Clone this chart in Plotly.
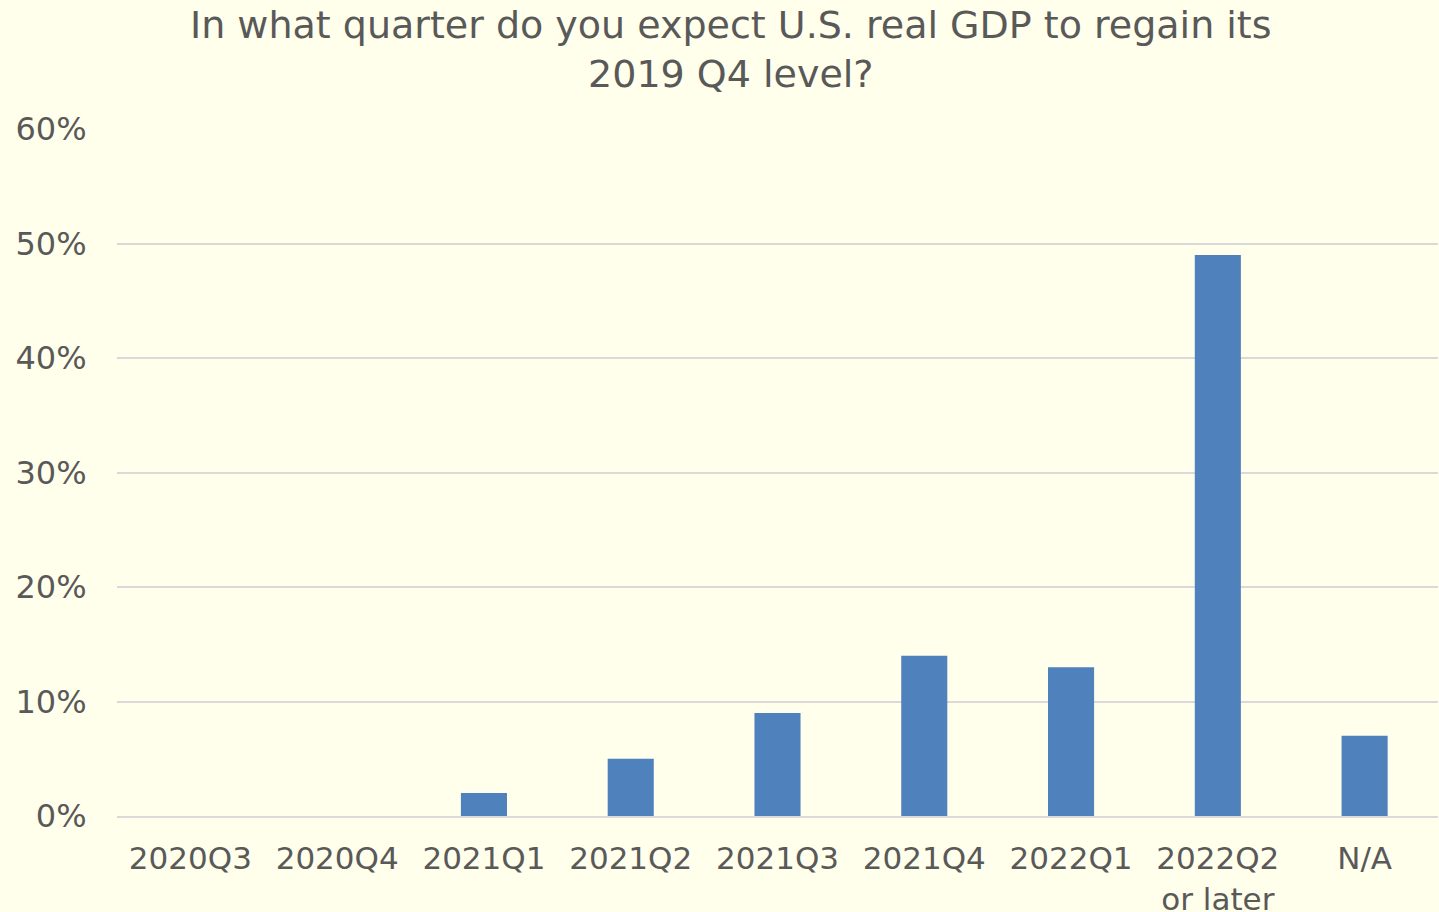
import plotly.graph_objects as go

categories = ["2020Q3", "2020Q4", "2021Q1", "2021Q2", "2021Q3", "2021Q4", "2022Q1", "2022Q2<br>or later", "N/A"]
values = [0.0, 0.0, 0.02, 0.05, 0.09, 0.14, 0.13, 0.49, 0.07]
y_ticks = [0, 0.1, 0.2, 0.3, 0.4, 0.5, 0.6]
y_labels = ["0%", "10%", "20%", "30%", "40%", "50%", "60%"]
title_text = "In what quarter do you expect U.S. real GDP to regain its<br>2019 Q4 level?"

TXT = "#595959"
FONT = "Verdana, DejaVu Sans, sans-serif"
BG = "#FFFFEB"

fig = go.Figure(go.Bar(x=categories, y=values, marker=dict(color="#4F81BD", line=dict(width=0)), width=0.314))

fig.update_layout(
    width=1439, height=912,
    paper_bgcolor=BG, plot_bgcolor=BG,
    margin=dict(l=117, r=1, t=129, b=96),
    font=dict(family=FONT, size=31, color=TXT),
    showlegend=False,
    annotations=[dict(text=title_text, xref="paper", yref="paper", x=0.465, y=1.1157,
                      xanchor="center", yanchor="middle", showarrow=False,
                      font=dict(family=FONT, size=38, color=TXT))],
)
fig.update_xaxes(showgrid=False, showline=True, linecolor="#D9D9D9", linewidth=2,
                 ticks="outside", ticklen=14, tickcolor="rgba(0,0,0,0)", automargin=False,
                 tickfont=dict(family=FONT, size=31, color=TXT))
fig.update_yaxes(range=[0, 0.6], tickvals=y_ticks, ticktext=y_labels, showgrid=True,
                 gridcolor="#D9D9D9", gridwidth=2, zeroline=False, showline=False,
                 ticks="outside", ticklen=23, tickcolor="rgba(0,0,0,0)", automargin=False,
                 tickfont=dict(family=FONT, size=32, color=TXT))

fig.write_html("out.html", config={"displayModeBar": False},
               post_script="document.body.style.margin='0';document.body.style.overflow='hidden';")
